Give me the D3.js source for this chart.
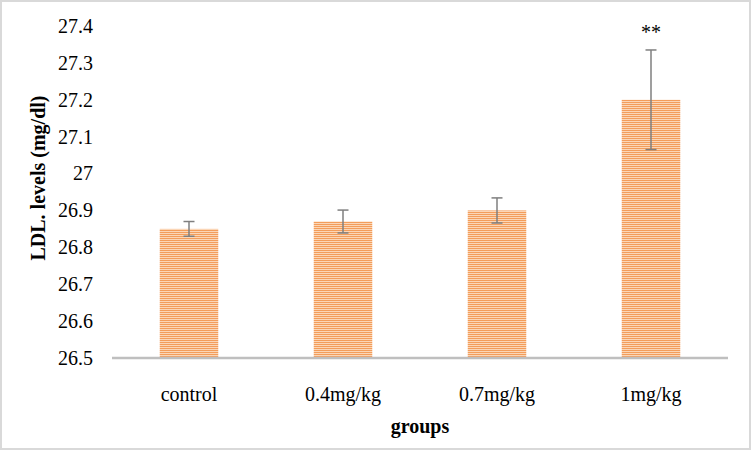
<!DOCTYPE html>
<html>
<head>
<meta charset="utf-8">
<script src="https://cdn.jsdelivr.net/npm/d3@7/dist/d3.min.js"></script>
<style>
body{margin:0;background:#fff;}
svg{display:block;}
svg text{font-family:"Liberation Serif","Times New Roman",serif !important;fill:#000;}
</style>
</head>
<body>
<svg id="chart" width="751" height="451"></svg>
<script>
const categories = ["control", "0.4mg/kg", "0.7mg/kg", "1mg/kg"];
const values = [26.85, 26.87, 26.90, 27.20];
const errors = [0.02, 0.031, 0.034, 0.135];
const marks = ["", "", "", "**"];
const yTicks = [26.5, 26.6, 26.7, 26.8, 26.9, 27.0, 27.1, 27.2, 27.3, 27.4];

(function () {
const FONT = "'Liberation Serif', 'Times New Roman', serif";
const svg = d3.select("#chart");
const W = 751, H = 451;
const pLeft = 112, pRight = 728, pTop = 26, pBottom = 358;

svg.append("rect").attr("x", 1).attr("y", 1).attr("width", W - 2).attr("height", H - 3)
  .attr("fill", "#fff").attr("stroke", "#d9d9d9").attr("stroke-width", 2);

const defs = svg.append("defs");
const pat = defs.append("pattern").attr("id", "stripes").attr("patternUnits", "userSpaceOnUse")
  .attr("width", 8).attr("height", 2);
pat.append("rect").attr("width", 8).attr("height", 2).attr("fill", "#fbd6b6");
pat.append("rect").attr("width", 8).attr("height", 1).attr("fill", "#f39d5b");

const x = d3.scaleBand().domain(categories).range([pLeft, pRight]).paddingInner(0.62).paddingOuter(0.31);
const y = d3.scaleLinear().domain([26.5, 27.4]).range([pBottom, pTop]);

const yAxis = d3.axisLeft(y).tickValues(yTicks).tickSize(0).tickPadding(0)
  .tickFormat(d => String(+d.toFixed(1)));
const ya = svg.append("g").attr("transform", `translate(93,0)`).call(yAxis)
  .attr("font-family", FONT).attr("font-size", 20);
ya.select(".domain").remove();
ya.selectAll("text").attr("fill", "#000");

svg.append("g").selectAll("rect").data(values).join("rect")
  .attr("x", (d, i) => x(categories[i]))
  .attr("width", x.bandwidth())
  .attr("y", d => y(d))
  .attr("height", d => y(26.5) - y(d))
  .attr("fill", "url(#stripes)");

const eg = svg.append("g").attr("stroke", "#7f7f7f").attr("stroke-width", 1.5);
values.forEach((v, i) => {
  const cx = x(categories[i]) + x.bandwidth() / 2;
  eg.append("line").attr("x1", cx).attr("x2", cx).attr("y1", y(v + errors[i])).attr("y2", y(v - errors[i]));
  [v + errors[i], v - errors[i]].forEach(e => {
    eg.append("line").attr("x1", cx - 5.5).attr("x2", cx + 5.5).attr("y1", y(e)).attr("y2", y(e));
  });
  if (marks[i]) {
    svg.append("text").attr("x", cx).attr("y", y(v + errors[i]) - 11)
      .attr("text-anchor", "middle").attr("font-family", FONT).attr("font-size", 20).text(marks[i]);
  }
});

const xAxis = d3.axisBottom(x).tickSize(0).tickPadding(0);
const xa = svg.append("g").attr("transform", `translate(0,${pBottom})`).call(xAxis)
  .attr("font-family", FONT).attr("font-size", 20);
xa.select(".domain").attr("stroke", "#bfbfbf").attr("stroke-width", 2.5)
  .attr("d", `M${pLeft},0H${pRight}`);
xa.selectAll("text").attr("dy", "0").attr("y", 43).attr("fill", "#000");

svg.append("text").attr("x", (pLeft + pRight) / 2).attr("y", 433).attr("text-anchor", "middle")
  .attr("font-family", FONT).attr("font-size", 20).attr("font-weight", "bold").text("groups");
svg.append("text").attr("transform", `translate(45,178) rotate(-90)`).attr("text-anchor", "middle")
  .attr("font-family", FONT).attr("font-size", 20).attr("font-weight", "bold").text("LDL. levels (mg/dl)");
})();
</script>
</body>
</html>
